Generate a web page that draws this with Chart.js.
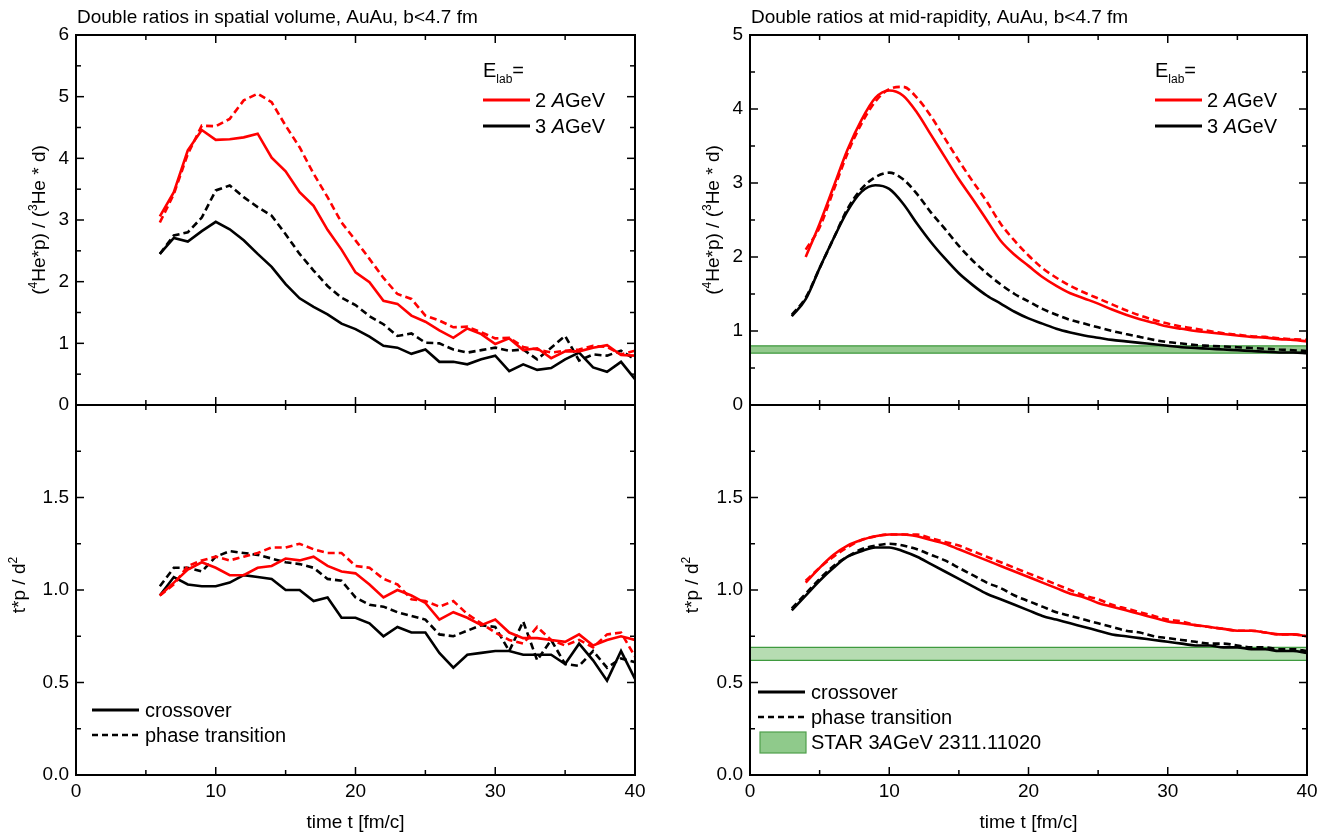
<!DOCTYPE html>
<html><head><meta charset="utf-8">
<script src="https://cdn.jsdelivr.net/npm/chart.js@4.4.1/dist/chart.umd.min.js"></script>
<style>
html,body{margin:0;padding:0;background:#fff;}
#wrap{position:relative;width:1330px;height:832px;overflow:hidden;background:#fff;}
canvas{position:absolute;left:0;top:0;}
</style></head><body><div id="wrap">
<canvas id="cTL" width="1330" height="832"></canvas>
<canvas id="cBL" width="1330" height="832"></canvas>
<canvas id="cTR" width="1330" height="832"></canvas>
<canvas id="cBR" width="1330" height="832"></canvas>
</div>
<script>
// ---------------- data ----------------
const timesL = [6,7,8,9,10,11,12,13,14,15,16,17,18,19,20,21,22,23,24,25,26,27,28,29,30,31,32,33,34,35,36,37,38,39,40];
// top-left: (4He*p)/(3He*d), spatial volume
const tlRed2Cross = [3.06,3.45,4.13,4.46,4.30,4.31,4.34,4.40,4.01,3.79,3.45,3.23,2.84,2.52,2.15,1.99,1.69,1.64,1.45,1.35,1.21,1.09,1.24,1.15,0.99,1.08,0.89,0.92,0.76,0.87,0.87,0.93,0.97,0.81,0.80];
const tlRed2Phase = [2.96,3.42,4.07,4.53,4.52,4.64,4.94,5.05,4.91,4.53,4.18,3.75,3.37,2.96,2.67,2.37,2.06,1.80,1.72,1.45,1.37,1.26,1.27,1.18,1.08,1.09,0.94,0.90,0.85,0.88,0.90,0.96,0.94,0.82,0.88];
const tlBlk3Cross = [2.45,2.71,2.65,2.82,2.97,2.85,2.67,2.45,2.24,1.96,1.73,1.59,1.47,1.32,1.23,1.11,0.96,0.93,0.83,0.90,0.70,0.70,0.66,0.74,0.80,0.55,0.66,0.57,0.60,0.74,0.85,0.61,0.54,0.70,0.42];
const tlBlk3Phase = [2.45,2.75,2.80,3.04,3.48,3.56,3.37,3.21,3.07,2.77,2.45,2.18,1.93,1.74,1.62,1.44,1.31,1.12,1.16,1.01,1.00,0.90,0.85,0.89,0.93,0.88,0.90,0.74,0.93,1.12,0.72,0.82,0.80,0.88,0.74];
// bottom-left: t*p/d^2, spatial volume
const blRed2Cross = [0.97,1.04,1.11,1.15,1.12,1.08,1.08,1.12,1.13,1.17,1.16,1.18,1.13,1.10,1.09,1.03,0.96,1.00,0.97,0.93,0.84,0.88,0.85,0.81,0.84,0.77,0.74,0.74,0.73,0.72,0.76,0.70,0.73,0.75,0.73];
const blRed2Phase = [0.97,1.03,1.13,1.16,1.18,1.16,1.18,1.20,1.23,1.23,1.25,1.22,1.20,1.20,1.13,1.12,1.06,1.03,0.95,0.94,0.91,0.94,0.87,0.82,0.77,0.73,0.71,0.80,0.73,0.70,0.73,0.69,0.76,0.77,0.64];
const blBlk3Cross = [0.97,1.07,1.03,1.02,1.02,1.04,1.08,1.07,1.06,1.00,1.00,0.94,0.96,0.85,0.85,0.82,0.75,0.80,0.77,0.77,0.66,0.58,0.65,0.66,0.67,0.67,0.65,0.65,0.65,0.60,0.71,0.62,0.51,0.67,0.52];
const blBlk3Phase = [1.02,1.12,1.12,1.10,1.18,1.21,1.20,1.19,1.17,1.15,1.14,1.12,1.06,1.05,0.96,0.92,0.91,0.88,0.86,0.84,0.76,0.75,0.78,0.81,0.80,0.67,0.83,0.62,0.73,0.60,0.59,0.67,0.58,0.63,0.61];

const timesR2 = [4,5,6,7,8,9,10,11,12,13,14,15,16,17,18,19,20,21,22,23,24,25,26,27,28,29,30,31,32,33,34,35,36,37,38,39,40];
const timesR3 = [3,4,5,6,7,8,9,10,11,12,13,14,15,16,17,18,19,20,21,22,23,24,25,26,27,28,29,30,31,32,33,34,35,36,37,38,39,40];
// top-right: (4He*p)/(3He*d), mid-rapidity
const trRed2Cross = [2.00,2.45,2.95,3.45,3.85,4.15,4.25,4.18,3.95,3.65,3.35,3.05,2.78,2.50,2.22,2.03,1.88,1.73,1.61,1.51,1.44,1.37,1.29,1.22,1.16,1.11,1.06,1.03,1.00,0.98,0.96,0.94,0.92,0.91,0.89,0.88,0.86];
const trRed2Phase = [2.10,2.40,2.90,3.40,3.80,4.10,4.27,4.30,4.15,3.90,3.60,3.30,3.02,2.75,2.45,2.22,2.02,1.85,1.72,1.61,1.52,1.44,1.36,1.28,1.21,1.15,1.10,1.06,1.03,1.00,0.97,0.95,0.93,0.92,0.90,0.89,0.88];
const trBlk3Cross = [1.20,1.43,1.85,2.25,2.62,2.88,2.97,2.92,2.72,2.45,2.20,1.98,1.78,1.62,1.48,1.37,1.26,1.17,1.10,1.03,0.98,0.94,0.91,0.88,0.86,0.84,0.82,0.80,0.78,0.77,0.76,0.75,0.74,0.73,0.72,0.71,0.71,0.70];
const trBlk3Phase = [1.22,1.45,1.85,2.25,2.65,2.92,3.08,3.14,3.05,2.85,2.60,2.38,2.15,1.95,1.78,1.63,1.50,1.40,1.30,1.22,1.15,1.10,1.05,1.00,0.96,0.92,0.88,0.85,0.83,0.81,0.80,0.79,0.78,0.77,0.76,0.75,0.74,0.73];
// bottom-right: t*p/d^2, mid-rapidity
const brRed2Cross = [1.04,1.12,1.19,1.24,1.27,1.29,1.30,1.30,1.29,1.27,1.25,1.22,1.19,1.16,1.13,1.10,1.07,1.04,1.01,0.98,0.96,0.93,0.91,0.89,0.87,0.85,0.83,0.82,0.81,0.80,0.79,0.78,0.78,0.77,0.76,0.76,0.75];
const brRed2Phase = [1.05,1.12,1.18,1.23,1.27,1.29,1.30,1.30,1.30,1.28,1.26,1.24,1.21,1.18,1.15,1.12,1.09,1.06,1.03,1.00,0.97,0.95,0.92,0.90,0.88,0.86,0.84,0.83,0.81,0.80,0.79,0.78,0.78,0.77,0.76,0.76,0.75];
const brBlk3Cross = [0.89,0.97,1.05,1.12,1.18,1.21,1.23,1.23,1.21,1.18,1.14,1.10,1.06,1.02,0.98,0.95,0.92,0.89,0.86,0.84,0.82,0.80,0.78,0.76,0.75,0.74,0.73,0.72,0.71,0.70,0.70,0.69,0.69,0.68,0.68,0.67,0.67,0.66];
const brBlk3Phase = [0.90,0.98,1.06,1.13,1.18,1.22,1.24,1.25,1.24,1.22,1.19,1.16,1.12,1.08,1.04,1.01,0.97,0.94,0.91,0.88,0.86,0.84,0.82,0.80,0.78,0.77,0.75,0.74,0.73,0.72,0.71,0.71,0.70,0.69,0.69,0.68,0.68,0.67];

// STAR 3 AGeV band (2311.11020): [low, high]
const starBandXRange = [0, 40];
const starBandHe = [0.70, 0.80];
const starBandT = [0.62, 0.69];

// axes
const xRange = [0, 40];
const xTickStep = 10;
const yRangeTL = [0, 6];
const yRangeTR = [0, 5];
const yRangeB = [0, 2];

// ---------------- helpers ----------------
const FAM = '"Liberation Sans", Arial, Helvetica, sans-serif';
const RED = '#ff0000', BLK = '#000000';
function fnt(sz, it){ return (it ? 'italic ' : '') + sz + 'px ' + FAM; }
function R(t, k, it){ return {t:t, k:k || 'n', it:!!it}; }
function runSize(r, base){ return (r.k === 'sup' || r.k === 'sub') ? Math.round(base*0.62) : base; }
function runsWidth(ctx, runs, base){
  let w = 0;
  for (const r of runs){ ctx.font = fnt(runSize(r, base), r.it); w += ctx.measureText(r.t).width; }
  return w;
}
function drawRuns(ctx, runs, x, y, base){
  for (const r of runs){
    ctx.font = fnt(runSize(r, base), r.it);
    const dy = r.k === 'sup' ? -base*0.42 : (r.k === 'sub' ? base*0.30 : 0);
    ctx.fillText(r.t, x, y + dy);
    x += ctx.measureText(r.t).width;
  }
  return x;
}
function drawVTitle(ctx, runs, cx, cy, base){
  ctx.save();
  ctx.translate(cx, cy);
  ctx.rotate(-Math.PI/2);
  const w = runsWidth(ctx, runs, base);
  drawRuns(ctx, runs, -w/2, base*0.36, base);
  ctx.restore();
}
function drawCTitle(ctx, runs, cx, y, base){
  const w = runsWidth(ctx, runs, base);
  drawRuns(ctx, runs, cx - w/2, y, base);
}
function seg(ctx, x1, y1, x2, y2){ ctx.beginPath(); ctx.moveTo(x1, y1); ctx.lineTo(x2, y2); ctx.stroke(); }
function pts(xs, ys){ return xs.map((x, i) => ({x: x, y: ys[i]})); }

function decoPlugin(cfg){
  return {
    id: 'deco' + cfg.name,
    afterDraw(chart){
      const ctx = chart.ctx, a = chart.chartArea, xs = chart.scales.x, ys = chart.scales.y;
      ctx.save();
      ctx.strokeStyle = '#000';
      ctx.lineWidth = 1.5;
      for (let v = xRange[0]; v <= xRange[1] + 1e-9; v += xTickStep/2){
        const len = (Math.abs(v % xTickStep) < 1e-9) ? 8 : 5;
        const px = xs.getPixelForValue(v);
        seg(ctx, px, a.bottom, px, a.bottom - len);
        seg(ctx, px, a.top, px, a.top + len);
      }
      for (let i = 0; cfg.ymin + i*cfg.yminor <= cfg.ymax + 1e-9; i++){
        const v = cfg.ymin + i*cfg.yminor;
        const major = Math.abs(v/cfg.ymajor - Math.round(v/cfg.ymajor)) < 1e-6;
        const len = major ? 8 : 5;
        const py = ys.getPixelForValue(v);
        seg(ctx, a.left, py, a.left + len, py);
        seg(ctx, a.right, py, a.right - len, py);
      }
      ctx.lineWidth = 2;
      ctx.strokeRect(a.left, a.top, a.right - a.left, a.bottom - a.top);
      ctx.fillStyle = '#000';
      ctx.textAlign = 'left';
      ctx.textBaseline = 'alphabetic';
      cfg.draw(ctx, chart);
      ctx.restore();
    }
  };
}

function lineDS(xs, ys, color, dashed, smooth){
  return {
    data: pts(xs, ys), borderColor: color, borderWidth: 2.6, pointRadius: 0,
    borderDash: dashed ? [7, 4] : [], fill: false,
    tension: smooth ? 0.4 : 0, cubicInterpolationMode: smooth ? 'monotone' : 'default'
  };
}
function bandDS(lohi, fillColor){
  return [
    { data: pts(starBandXRange, [lohi[0], lohi[0]]), borderColor: '#3f9a3f', borderWidth: 1.3, pointRadius: 0, fill: false, tension: 0 },
    { data: pts(starBandXRange, [lohi[1], lohi[1]]), borderColor: '#3f9a3f', borderWidth: 1.3, pointRadius: 0, fill: '-1', backgroundColor: fillColor, tension: 0 }
  ];
}

function yScale(range, step, fmt){
  return {
    type: 'linear', min: range[0], max: range[1],
    afterFit(s){ s.width = 60; },
    grid: { display: false, drawTicks: false }, border: { display: false },
    ticks: { stepSize: step, autoSkip: false, padding: 7, color: '#000', font: { family: FAM, size: 19 }, callback: fmt }
  };
}
function xScale(show){
  if (!show) return { type: 'linear', min: xRange[0], max: xRange[1], display: false };
  return {
    type: 'linear', min: xRange[0], max: xRange[1],
    afterFit(s){ s.height = 45; },
    grid: { display: false, drawTicks: false }, border: { display: false },
    ticks: { stepSize: xTickStep, autoSkip: false, padding: 5, maxRotation: 0, color: '#000', font: { family: FAM, size: 19 } }
  };
}

function makeChart(id, datasets, scales, padding, plugin){
  return new Chart(document.getElementById(id), {
    type: 'line',
    data: { datasets: datasets },
    options: {
      responsive: false, animation: false, devicePixelRatio: 1,
      layout: { padding: padding },
      scales: scales,
      plugins: { legend: { display: false }, tooltip: { enabled: false }, title: { display: false } }
    },
    plugins: [plugin]
  });
}

const fmtInt = v => String(v);
const fmtB = v => (v >= 2 - 1e-9) ? '' : v.toFixed(1);
const heTitle = [R('('), R('4','sup'), R('He*p) / ('), R('3','sup'), R('He * d)')];
const tTitle = [R('t*p / d'), R('2','sup')];
const xTitle = [R('time t [fm/c]')];

function energyLegend(ctx, x0){
  drawRuns(ctx, [R('E'), R('lab','sub'), R('=')], x0, 77, 20);
  ctx.lineWidth = 3; ctx.setLineDash([]);
  ctx.strokeStyle = RED; seg(ctx, x0, 100, x0 + 47, 100);
  ctx.strokeStyle = BLK; seg(ctx, x0, 126, x0 + 47, 126);
  ctx.fillStyle = '#000';
  drawRuns(ctx, [R('2 '), R('A','n',true), R('GeV')], x0 + 52, 107, 20);
  drawRuns(ctx, [R('3 '), R('A','n',true), R('GeV')], x0 + 52, 133, 20);
}
function styleLegend(ctx, x0, y0, withStar){
  ctx.strokeStyle = '#000'; ctx.lineWidth = 3;
  ctx.setLineDash([]); seg(ctx, x0, y0, x0 + 47, y0);
  ctx.lineWidth = 2.6; ctx.setLineDash([6, 4]); seg(ctx, x0, y0 + 25, x0 + 47, y0 + 25);
  ctx.setLineDash([]);
  drawRuns(ctx, [R('crossover')], x0 + 53, y0 + 7, 20);
  drawRuns(ctx, [R('phase transition')], x0 + 53, y0 + 32, 20);
  if (withStar){
    ctx.fillStyle = '#8fca8b'; ctx.fillRect(x0 + 2, y0 + 40, 46, 21);
    ctx.strokeStyle = '#4f9f4c'; ctx.lineWidth = 1.2; ctx.strokeRect(x0 + 2, y0 + 40, 46, 21);
    ctx.fillStyle = '#000';
    drawRuns(ctx, [R('STAR 3'), R('A','n',true), R('GeV 2311.11020')], x0 + 53, y0 + 57, 20);
  }
}

// ---------------- charts ----------------
makeChart('cTL', [
  lineDS(timesL, tlRed2Cross, RED, false, false),
  lineDS(timesL, tlRed2Phase, RED, true, false),
  lineDS(timesL, tlBlk3Cross, BLK, false, false),
  lineDS(timesL, tlBlk3Phase, BLK, true, false)
], { x: xScale(false), y: yScale(yRangeTL, 1, fmtInt) },
{ left: 16, top: 35, right: 695, bottom: 427 },
decoPlugin({ name: 'TL', ymin: 0, ymax: 6, ymajor: 1, yminor: 0.5, draw(ctx, chart){
  drawRuns(ctx, [R('Double ratios in spatial volume, AuAu, b<4.7 fm')], 77, 23, 19);
  drawVTitle(ctx, heTitle, 38, 220, 19);
  energyLegend(ctx, 483);
}}));

makeChart('cBL', [
  lineDS(timesL, blRed2Cross, RED, false, false),
  lineDS(timesL, blRed2Phase, RED, true, false),
  lineDS(timesL, blBlk3Cross, BLK, false, false),
  lineDS(timesL, blBlk3Phase, BLK, true, false)
], { x: xScale(true), y: yScale(yRangeB, 0.5, fmtB) },
{ left: 16, top: 405, right: 695, bottom: 12 },
decoPlugin({ name: 'BL', ymin: 0, ymax: 2, ymajor: 0.5, yminor: 0.25, draw(ctx, chart){
  drawVTitle(ctx, tTitle, 18, 585, 19);
  const a = chart.chartArea;
  drawCTitle(ctx, xTitle, (a.left + a.right)/2, 828, 19);
  styleLegend(ctx, 92, 710, false);
}}));

makeChart('cTR', [
  lineDS(timesR2, trRed2Cross, RED, false, true),
  lineDS(timesR2, trRed2Phase, RED, true, true),
  lineDS(timesR3, trBlk3Cross, BLK, false, true),
  lineDS(timesR3, trBlk3Phase, BLK, true, true),
  ...bandDS(starBandHe, '#93c98d')
], { x: xScale(false), y: yScale(yRangeTR, 1, fmtInt) },
{ left: 690, top: 35, right: 23, bottom: 427 },
decoPlugin({ name: 'TR', ymin: 0, ymax: 5, ymajor: 1, yminor: 0.5, draw(ctx, chart){
  drawRuns(ctx, [R('Double ratios at mid-rapidity, AuAu, b<4.7 fm')], 751, 23, 19);
  drawVTitle(ctx, heTitle, 712, 220, 19);
  energyLegend(ctx, 1155);
}}));

makeChart('cBR', [
  lineDS(timesR2, brRed2Cross, RED, false, true),
  lineDS(timesR2, brRed2Phase, RED, true, true),
  lineDS(timesR3, brBlk3Cross, BLK, false, true),
  lineDS(timesR3, brBlk3Phase, BLK, true, true),
  ...bandDS(starBandT, '#b6dcb2')
], { x: xScale(true), y: yScale(yRangeB, 0.5, fmtB) },
{ left: 690, top: 405, right: 23, bottom: 12 },
decoPlugin({ name: 'BR', ymin: 0, ymax: 2, ymajor: 0.5, yminor: 0.25, draw(ctx, chart){
  drawVTitle(ctx, tTitle, 691, 585, 19);
  const a = chart.chartArea;
  drawCTitle(ctx, xTitle, (a.left + a.right)/2, 828, 19);
  styleLegend(ctx, 758, 692, true);
}}));
</script>
</body></html>
